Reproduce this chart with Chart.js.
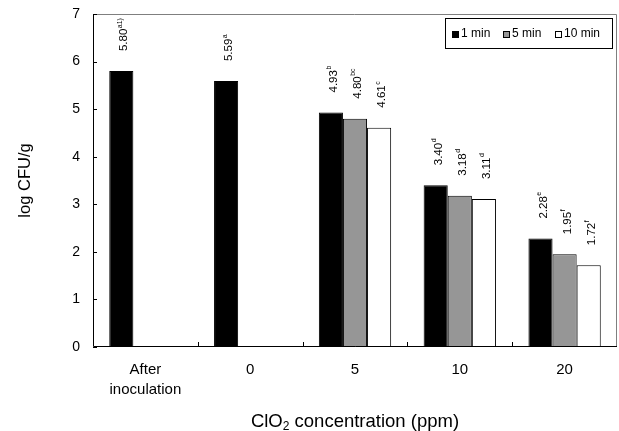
<!DOCTYPE html>
<html>
<head>
<meta charset="utf-8">
<script src="https://cdn.jsdelivr.net/npm/chart.js@4"></script>
<style>
  html, body { margin: 0; padding: 0; background: #fff; }
  #wrap { width: 619px; height: 431px; position: relative; }
</style>
</head>
<body>
<div id="wrap"><canvas id="cfuChart"></canvas></div>
<script>
// data
const categories = [['After', 'inoculation'], '0', '5', '10', '20'];
const seriesNames = ['1 min', '5 min', '10 min'];
const min1 = [5.80, 5.59, 4.93, 3.40, 2.28];
const min5 = [null, null, 4.80, 3.18, 1.95];
const min10 = [null, null, 4.61, 3.11, 1.72];
const letters1 = ['a1)', 'a', 'b', 'd', 'e'];
const letters5 = [null, null, 'bc', 'd', 'f'];
const letters10 = [null, null, 'c', 'd', 'f'];
const yTicks = [0, 1, 2, 3, 4, 5, 6, 7];

const FONT = '"Liberation Sans", Arial, sans-serif';
const fills = ['#000000', '#969696', '#ffffff'];
const letters = [letters1, letters5, letters10];

// frame, inward ticks, titles, value labels, legend
const decorPlugin = {
    id: 'decor',
    afterDatasetsDraw(chart) {
        const ctx = chart.ctx;
        const a = chart.chartArea;
        const xs = chart.scales.x;
        const ys = chart.scales.y;
        ctx.save();

        // frame: grey top/right, black axes
        ctx.lineWidth = 1;
        ctx.strokeStyle = '#7f7f7f';
        ctx.beginPath();
        ctx.moveTo(a.left, a.top + 0.5);
        ctx.lineTo(a.right - 0.5, a.top + 0.5);
        ctx.lineTo(a.right - 0.5, a.bottom);
        ctx.stroke();
        ctx.strokeStyle = '#000';
        ctx.beginPath();
        ctx.moveTo(a.left + 0.5, a.top);
        ctx.lineTo(a.left + 0.5, a.bottom - 0.5);
        ctx.lineTo(a.right, a.bottom - 0.5);
        ctx.stroke();

        // y tick marks, pointing inward
        ctx.beginPath();
        yTicks.forEach(v => {
            const y = Math.round(ys.getPixelForValue(v)) + 0.5;
            ctx.moveTo(a.left, y);
            ctx.lineTo(a.left + 4, y);
        });
        // x tick marks at category boundaries
        for (let i = 1; i < categories.length; i++) {
            const x = Math.round((xs.getPixelForValue(i - 1) + xs.getPixelForValue(i)) / 2) + 0.5;
            ctx.moveTo(x, a.bottom);
            ctx.lineTo(x, a.bottom - 5);
        }
        ctx.stroke();

        // value labels, rotated, with superscript letters
        ctx.fillStyle = '#000';
        ctx.textBaseline = 'middle';
        ctx.textAlign = 'left';
        chart.data.datasets.forEach((ds, di) => {
            const meta = chart.getDatasetMeta(di);
            meta.data.forEach((bar, i) => {
                const v = ds.data[i];
                if (v === null) return;
                const txt = v.toFixed(2);
                ctx.save();
                ctx.translate(bar.x + 3, bar.y - 20);
                ctx.rotate(-Math.PI / 2);
                ctx.font = '11.5px ' + FONT;
                ctx.fillText(txt, 0, 0);
                const w = ctx.measureText(txt).width;
                ctx.font = '7px ' + FONT;
                ctx.fillText(letters[di][i], w + 0.5, -4.5);
                ctx.restore();
            });
        });

        // axis titles
        ctx.font = '16.5px ' + FONT;
        ctx.textAlign = 'center';
        ctx.save();
        ctx.translate(25, (a.top + a.bottom) / 2);
        ctx.rotate(-Math.PI / 2);
        ctx.fillText('log CFU/g', 0, 0);
        ctx.restore();

        const part1 = 'ClO', sub = '2', part2 = ' concentration (ppm)';
        const big = '18.5px ' + FONT, small = '12px ' + FONT;
        ctx.font = big;
        const w1 = ctx.measureText(part1).width;
        const w3 = ctx.measureText(part2).width;
        ctx.font = small;
        const w2 = ctx.measureText(sub).width;
        const x0 = (a.left + a.right) / 2 - (w1 + w2 + w3) / 2;
        const ty = 422;
        ctx.textAlign = 'left';
        ctx.font = big;
        ctx.fillText(part1, x0, ty);
        ctx.font = small;
        ctx.fillText(sub, x0 + w1, ty + 5);
        ctx.font = big;
        ctx.fillText(part2, x0 + w1 + w2, ty);

        // legend box, top right inside plot
        const lx = 445, ly = 18, lw = 167, lh = 30;
        ctx.fillStyle = '#fff';
        ctx.fillRect(lx, ly, lw, lh);
        ctx.strokeStyle = '#000';
        ctx.strokeRect(lx + 0.5, ly + 0.5, lw, lh);
        const itemX = [452, 503, 555];
        ctx.font = '12px ' + FONT;
        seriesNames.forEach((name, k) => {
            ctx.fillStyle = fills[k];
            ctx.fillRect(itemX[k], 31, 7, 7);
            ctx.strokeStyle = '#000';
            ctx.strokeRect(itemX[k] + 0.5, 31.5, 6, 6);
            ctx.fillStyle = '#000';
            ctx.fillText(name, itemX[k] + 9, 34);
        });

        ctx.restore();
    }
};

const ctx = document.getElementById('cfuChart').getContext('2d');
new Chart(ctx, {
    type: 'bar',
    data: {
        labels: categories,
        datasets: [min1, min5, min10].map((vals, k) => ({
            label: seriesNames[k],
            data: vals,
            backgroundColor: fills[k],
            borderColor: '#000',
            borderWidth: 1,
            barPercentage: 1,
            categoryPercentage: 0.69
        }))
    },
    options: {
        responsive: true,
        maintainAspectRatio: false,
        animation: false,
        devicePixelRatio: 1,
        layout: { padding: { left: 0, right: 2, top: 14, bottom: 0 } },
        plugins: {
            legend: { display: false },
            tooltip: { enabled: false }
        },
        scales: {
            x: {
                border: { display: false },
                grid: { display: false, drawTicks: false },
                ticks: { color: '#000', padding: 13, maxRotation: 0, font: { family: FONT, size: 15, lineHeight: 1.33 } },
                afterFit: scale => {
                    scale.height = 84;
                    scale.paddingLeft = 0;
                    scale.paddingRight = 0;
                }
            },
            y: {
                min: 0,
                max: 7,
                border: { display: false },
                grid: { display: false, drawTicks: false },
                afterBuildTicks: scale => { scale.ticks = yTicks.map(v => ({ value: v })); },
                ticks: { color: '#000', padding: 13, font: { family: FONT, size: 14 } },
                afterFit: scale => {
                    scale.width = 93;
                    scale.paddingTop = 0;
                    scale.paddingBottom = 0;
                }
            }
        }
    },
    plugins: [decorPlugin]
});
</script>
</body>
</html>
